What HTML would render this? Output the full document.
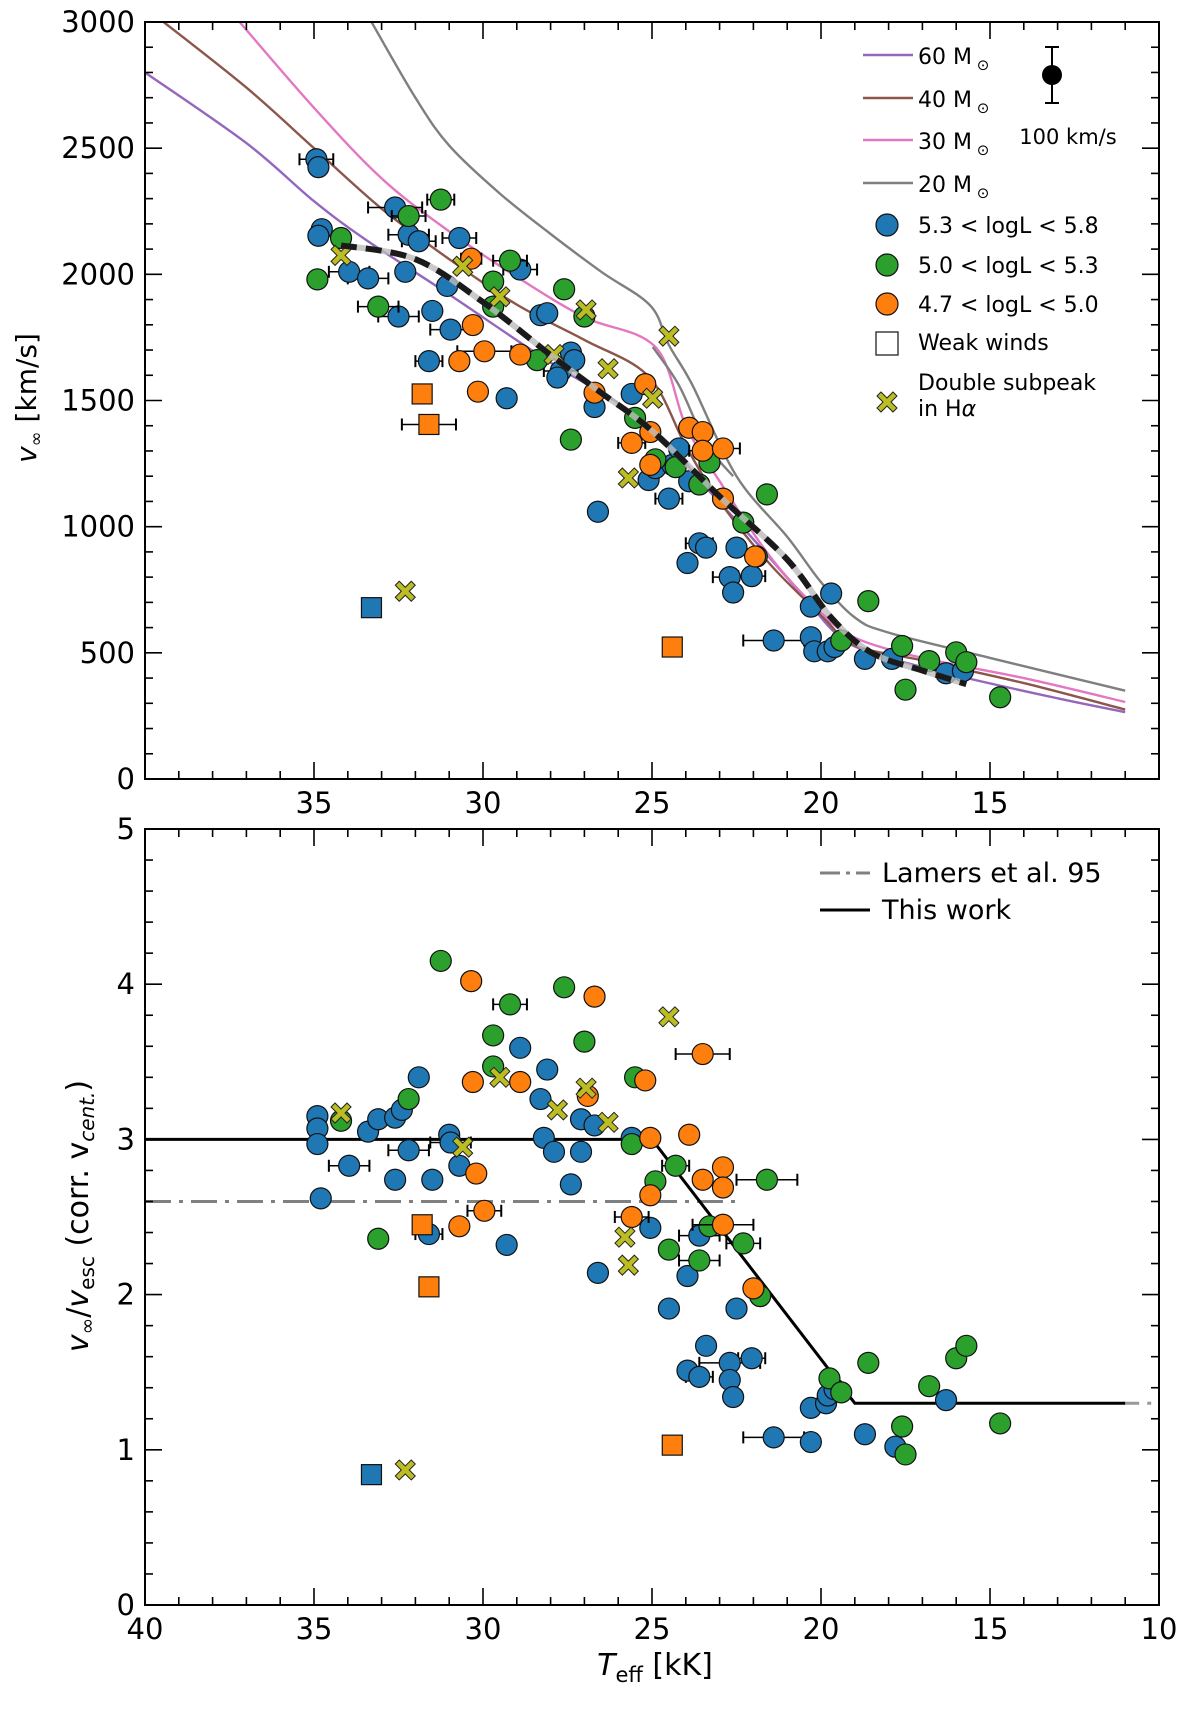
<!DOCTYPE html>
<html><head><meta charset="utf-8">
<style>
html,body{margin:0;padding:0;background:#fff;}
svg{display:block;font-family:"DejaVu Sans","Liberation Sans",sans-serif;}
</style></head>
<body>
<svg id="fig" width="1200" height="1715" viewBox="0 0 1200 1715" xmlns="http://www.w3.org/2000/svg">
<g id="top"></g>
<g id="bot"></g>
</svg>
<script>
// ---------- data ----------
const topBlue=[[34.93,2456,0.5],[34.87,2425,0],[34.77,2179,0],[34.87,2153,0],[33.96,2010,0.6],[33.4,1984,0.6],[32.6,2265,0.8],[32.2,2157,0.6],[32.3,2010,0],[31.9,2131,0.5],[32.5,1833,0.6],[31.5,1855,0],[31.6,1656,0.4],[30.96,1781,0.6],[30.7,2144,0.5],[31.06,1954,0],[29.3,1509,0],[28.9,2019,0.5],[28.3,1838,0],[28.1,1846,0],[27.7,1617,0.5],[27.4,1690,0],[27.3,1660,0],[27.8,1591,0],[26.7,1474,0],[26.6,1059,0],[25.6,1526,0],[25.1,1185,0],[24.9,1232,0],[24.5,1111,0.4],[24.4,1245,0],[23.9,1180,0],[23.95,856,0],[23.6,934,0.4],[23.4,917,0],[22.7,800,0.5],[22.6,739,0],[22.05,804,0.4],[22.5,917,0],[21.4,549,0.9],[20.3,683,0],[20.3,562,0],[20.2,506,0],[19.7,735,0],[19.8,506,0],[19.6,523,0],[18.7,476,0],[17.9,476,0],[16.3,419,0],[15.8,428,0],[24.2,1310,0]];
const topGreen=[[31.25,2296,0.4],[32.2,2231,0.5],[34.2,2144,0],[34.9,1980,0],[33.1,1872,0.6],[29.2,2054,0.5],[29.7,1971,0],[29.7,1872,0],[27.6,1941,0],[27.0,1833,0],[28.4,1660,0],[27.4,1345,0],[25.5,1431,0],[24.9,1267,0],[24.3,1236,0],[23.6,1167,0],[23.3,1254,0],[22.3,1016,0],[21.6,1128,0],[18.6,705,0],[19.4,549,0],[17.6,527,0],[17.5,354,0],[16.8,467,0],[16.0,502,0],[15.7,463,0],[14.7,324,0],[21.9,882,0]];
const topOrange=[[30.35,2062,0.3],[30.3,1799,0],[30.7,1656,0],[29.96,1695,0.8],[28.9,1682,0],[30.15,1535,0],[26.7,1531,0],[25.2,1565,0],[25.05,1375,0],[25.6,1332,0.4],[25.05,1245,0],[23.9,1392,0],[23.5,1375,0],[23.5,1301,0.4],[22.9,1310,0.5],[22.9,1111,0],[21.95,882,0]];
const topOrangeSq=[[31.8,1526,0],[31.6,1405,0.8],[24.4,523,0]];
const topBlueSq=[[33.3,679,0]];
const topX=[[34.2,2075],[30.6,2032],[29.5,1911],[27.9,1682],[26.95,1859],[26.3,1626],[24.98,1509],[25.7,1193],[24.5,1755],[32.3,744]];
const trackT60=[40,37,35,33.5,31,28,26,24.5,23.5,22,20.5,19.5,18.5,16,13,11];
const trackV60=[2800,2520,2290,2140,1920,1650,1490,1330,1170,950,720,570,500,410,320,265];
const trackT40=[39.45,37,35,33,31,29,27,25.1,24,23,21.5,20,19,17,14,11];
const trackV40=[3000,2740,2500,2260,2060,1880,1740,1595,1320,1100,850,650,530,470,380,275];
const trackT30=[37.2,35,33,31,29,27,24.9,24,23,21.5,20,19,17,14,11];
const trackV30=[3000,2660,2380,2170,1990,1830,1712,1400,1180,880,660,560,480,400,305];
const trackT20=[33.3,32,31,29.5,28,26.5,25.05,24.5,23.8,22.5,21,20,19,18,15,11];
const trackV20=[3000,2700,2510,2320,2160,2010,1876,1720,1560,1200,960,780,640,580,480,350];
const trackT20b=[24.98,24.2,23.4,22.6];
const trackV20b=[1712,1560,1330,1200];
const fitT=[34.2,32,30,28,26.5,25,23,21,19.7,18.5,17,15.7];
const fitV=[2115,2060,1890,1680,1530,1380,1120,870,640,500,430,376];
const botBlue=[[34.9,3.15,0],[34.9,3.07,0],[34.9,2.97,0],[34.8,2.62,0],[33.96,2.83,0.6],[33.4,3.05,0],[33.1,3.13,0],[32.6,3.14,0],[32.4,3.19,0],[31.9,3.40,0],[32.2,2.93,0.6],[32.6,2.74,0],[31.5,2.74,0],[31.6,2.39,0.4],[31.0,3.03,0],[30.7,2.83,0],[30.96,2.98,0.6],[29.3,2.32,0],[28.9,3.59,0],[28.3,3.26,0],[28.1,3.45,0],[28.2,3.01,0],[27.9,2.92,0],[27.1,2.92,0],[27.1,3.13,0],[26.7,3.09,0],[27.4,2.71,0],[26.6,2.14,0],[25.6,3.01,0],[25.05,2.43,0],[24.5,1.91,0],[23.95,2.12,0],[23.95,1.51,0],[23.6,1.47,0.4],[23.4,1.67,0],[23.6,2.38,0.6],[22.7,1.56,0.9],[22.7,1.45,0],[22.6,1.34,0],[22.05,1.59,0.4],[22.5,1.91,0],[21.4,1.08,0.9],[20.3,1.05,0],[20.3,1.27,0],[19.85,1.30,0],[19.8,1.35,0],[19.6,1.39,0],[18.7,1.10,0],[17.8,1.02,0],[16.3,1.32,0]];
const botGreen=[[31.25,4.15,0],[32.2,3.26,0],[34.2,3.12,0],[33.1,2.36,0],[29.7,3.47,0],[29.7,3.67,0],[29.2,3.87,0.5],[27.6,3.98,0],[27.0,3.63,0],[25.5,3.40,0],[25.6,2.97,0],[24.9,2.73,0],[24.3,2.83,0.4],[24.5,2.29,0],[23.3,2.44,0],[23.6,2.22,0.6],[22.3,2.33,0.5],[21.8,1.99,0],[21.6,2.74,0.9],[19.75,1.46,0],[19.4,1.37,0],[18.6,1.56,0],[17.6,1.15,0],[17.5,0.97,0],[16.8,1.41,0],[16.0,1.59,0],[15.7,1.67,0],[14.7,1.17,0]];
const botOrange=[[30.35,4.02,0],[30.3,3.37,0],[30.2,2.78,0],[30.7,2.44,0],[29.96,2.54,0.5],[28.9,3.37,0],[26.7,3.92,0],[26.9,3.28,0],[25.2,3.38,0],[25.05,3.01,0],[25.6,2.50,0.5],[25.05,2.64,0],[23.9,3.03,0],[23.5,3.55,0.8],[23.5,2.74,0],[22.9,2.82,0],[22.9,2.69,0],[22.9,2.45,0.9],[22.0,2.04,0]];
const botOrangeSq=[[31.8,2.45,0],[31.6,2.05,0],[24.4,1.03,0]];
const botBlueSq=[[33.3,0.84,0]];
const botX=[[34.2,3.17],[30.6,2.95],[29.5,3.40],[27.8,3.19],[26.95,3.33],[26.3,3.11],[25.8,2.37],[25.7,2.19],[24.5,3.79],[32.3,0.87]];
const thisWorkT=[40,25,19,11];
const thisWorkY=[3.0,3.0,1.3,1.3];
const lamersT=[40,22.4];
const lamersY=[2.6,2.6];
const lamersTailT=[11,10];
const lamersTailY=[1.3,1.3];
const xTicksMajor=[40,35,30,25,20,15,10];
const topYTicks=[0,500,1000,1500,2000,2500,3000];
const botYTicks=[0,1,2,3,4,5];

// ---------- helpers ----------
const NS="http://www.w3.org/2000/svg";
function mk(parent,tag,attrs){const e=document.createElementNS(NS,tag);for(const k in attrs)e.setAttribute(k,attrs[k]);parent.appendChild(e);return e;}
const L=145,R=1159;
const xs=t=>L+(40-t)*(R-L)/30;
const topG=document.getElementById('top'),botG=document.getElementById('bot');
const TT=22,TB=779,BT=829,BB=1605;
const ysTop=v=>TB-v*(TB-TT)/3000;
const ysBot=v=>BB-v*(BB-BT)/5;

function axes(g,top,bot,yMax,yMajor,yMinor,ys,xLabelsAll,yTickLabels){
  const fr=mk(g,'rect',{x:L,y:top,width:R-L,height:bot-top,fill:'none',stroke:'#000','stroke-width':2});
  
  
  for(let t=10;t<=40;t+=1){
    const maj=t%5===0,len=maj?17:8,x=xs(t);
    mk(g,'line',{x1:x,y1:bot,x2:x,y2:bot-len,stroke:'#000','stroke-width':1.6});
    mk(g,'line',{x1:x,y1:top,x2:x,y2:top+len,stroke:'#000','stroke-width':1.6});
  }
  for(let v=0;v<=yMax+1e-9;v+=yMinor){
    const maj=Math.abs(v/yMajor-Math.round(v/yMajor))<1e-6,len=maj?17:8,y=ys(v);
    mk(g,'line',{x1:L,y1:y,x2:L+len,y2:y,stroke:'#000','stroke-width':1.6});
    mk(g,'line',{x1:R,y1:y,x2:R-len,y2:y,stroke:'#000','stroke-width':1.6});
  }
  xTicksMajor.forEach(t=>{
    if(!xLabelsAll && (t===40||t===10)) return;
    const tx=mk(g,'text',{x:xs(t),y:bot+34,'font-size':29,'text-anchor':'middle'});
    tx.textContent=t;
    
    
  });
  yTickLabels.forEach(v=>{
    const tx=mk(g,'text',{x:L-10,y:ys(v)+10,'font-size':29,'text-anchor':'end'});
    tx.textContent=v;
    
    
  });
}
function line(g,T,V,ys,attrs,name){
  const pts=T.map((t,i)=>xs(t).toFixed(1)+','+ys(V[i]).toFixed(1)).join(' ');
  const p=mk(g,'polyline',Object.assign({points:pts,fill:'none'},attrs));
  
  
  return p;
}
function smooth(g,T,V,ys,attrs,name){
  const P=T.map((t,i)=>[xs(t),ys(V[i])]);
  let d='M'+P[0][0].toFixed(1)+','+P[0][1].toFixed(1);
  for(let i=0;i<P.length-1;i++){
    const p0=P[Math.max(i-1,0)],p1=P[i],p2=P[i+1],p3=P[Math.min(i+2,P.length-1)];
    const c1=[p1[0]+(p2[0]-p0[0])/6,p1[1]+(p2[1]-p0[1])/6];
    const c2=[p2[0]-(p3[0]-p1[0])/6,p2[1]-(p3[1]-p1[1])/6];
    d+=` C${c1[0].toFixed(1)},${c1[1].toFixed(1)} ${c2[0].toFixed(1)},${c2[1].toFixed(1)} ${p2[0].toFixed(1)},${p2[1].toFixed(1)}`;
  }
  const p=mk(g,'path',Object.assign({d:d,fill:'none'},attrs));
  
  
  return p;
}
function errs(g,arr,ys){
  arr.forEach(d=>{ if(!d[2])return;
    const x1=xs(d[0]+d[2]),x2=xs(d[0]-d[2]),y=ys(d[1]);
    mk(g,'line',{x1:x1,y1:y,x2:x2,y2:y,stroke:'#000','stroke-width':1.5});
    mk(g,'line',{x1:x1,y1:y-6,x2:x1,y2:y+6,stroke:'#000','stroke-width':2});
    mk(g,'line',{x1:x2,y1:y-6,x2:x2,y2:y+6,stroke:'#000','stroke-width':2});
  });
}
function circles(g,arr,ys,color,name){
  errs(g,arr,ys);
  arr.forEach(d=>{
    const c=mk(g,'circle',{cx:xs(d[0]),cy:ys(d[1]),r:10.5,fill:color,stroke:'#111','stroke-width':1.2});
    
    
  });
}
function squares(g,arr,ys,color,name){
  errs(g,arr,ys);
  arr.forEach(d=>{
    const c=mk(g,'rect',{x:xs(d[0])-10,y:ys(d[1])-10,width:20,height:20,fill:color,stroke:'#111','stroke-width':1.2});
    
    
  });
}
const Xpath="M-6,-10 L0,-4 L6,-10 L10,-6 L4,0 L10,6 L6,10 L0,4 L-6,10 L-10,6 L-4,0 L-10,-6 Z";
function crosses(g,arr,ys,name){
  arr.forEach(d=>{
    const c=mk(g,'path',{d:Xpath,transform:`translate(${xs(d[0])},${ys(d[1])})`,fill:'#bcbd22',stroke:'#222','stroke-width':1});
    
    
  });
}

// ---------- top panel ----------
const clipT=mk(topG,'clipPath',{id:'clipTop'});
mk(clipT,'rect',{x:L,y:TT,width:R-L,height:TB-TT});
const tg=mk(topG,'g',{'clip-path':'url(#clipTop)'});
smooth(tg,trackT60,trackV60,ysTop,{stroke:'#9467bd','stroke-width':2.4},'track-60msun');
smooth(tg,trackT40,trackV40,ysTop,{stroke:'#8c564b','stroke-width':2.4},'track-40msun');
smooth(tg,trackT30,trackV30,ysTop,{stroke:'#e377c2','stroke-width':2.4},'track-30msun');
smooth(tg,trackT20,trackV20,ysTop,{stroke:'#7f7f7f','stroke-width':2.4},'track-20msun');
smooth(tg,trackT20b,trackV20b,ysTop,{stroke:'#7f7f7f','stroke-width':2.4},'track-20msun-loop');
circles(tg,topBlue,ysTop,'#1f77b4','point-high-lum');
circles(tg,topGreen,ysTop,'#2ca02c','point-mid-lum');
circles(tg,topOrange,ysTop,'#ff7f0e','point-low-lum');
squares(tg,topOrangeSq,ysTop,'#ff7f0e','weak-wind-low-lum');
squares(tg,topBlueSq,ysTop,'#1f77b4','weak-wind-high-lum');
crosses(tg,topX,ysTop,'double-subpeak-marker');
smooth(tg,fitT,fitV,ysTop,{stroke:'#bbb','stroke-width':6,'stroke-opacity':0.8},'fit-line-base');
smooth(tg,fitT,fitV,ysTop,{stroke:'#1a1a1a','stroke-width':6,'stroke-dasharray':'16 9'},'fit-line-dashed');
axes(topG,TT,TB,3000,500,100,ysTop,false,topYTicks);

// ---------- bottom panel ----------
const clipB=mk(botG,'clipPath',{id:'clipBot'});
mk(clipB,'rect',{x:L,y:BT,width:R-L,height:BB-BT});
const bg=mk(botG,'g',{'clip-path':'url(#clipBot)'});
line(bg,lamersT,lamersY,ysBot,{stroke:'#808080','stroke-width':3,'stroke-dasharray':'26 8 4 8'},'lamers-line');
line(bg,lamersTailT,lamersTailY,ysBot,{stroke:'#999','stroke-width':3,'stroke-dasharray':'14 8 4 8'},'lamers-tail');
line(bg,thisWorkT,thisWorkY,ysBot,{stroke:'#000','stroke-width':3},'this-work-line');
circles(bg,botBlue,ysBot,'#1f77b4','point-high-lum');
circles(bg,botGreen,ysBot,'#2ca02c','point-mid-lum');
circles(bg,botOrange,ysBot,'#ff7f0e','point-low-lum');
squares(bg,botOrangeSq,ysBot,'#ff7f0e','weak-wind-low-lum');
squares(bg,botBlueSq,ysBot,'#1f77b4','weak-wind-high-lum');
crosses(bg,botX,ysBot,'double-subpeak-marker');
axes(botG,BT,BB,5,1,0.2,ysBot,true,botYTicks);
</script>
<script>
(function(){
const NS="http://www.w3.org/2000/svg",f=document.getElementById('fig');
function mk(tag,attrs,txt){const e=document.createElementNS(NS,tag);for(const k in attrs)e.setAttribute(k,attrs[k]);if(txt!==undefined)e.innerHTML=txt;f.appendChild(e);return e;}
let e;
e=mk('text',{x:36,y:398,'font-size':28,'text-anchor':'middle',transform:'rotate(-90 36 398)'},'<tspan font-style="italic">v</tspan><tspan font-size="18" dy="6">∞</tspan><tspan dy="-6"> [km/s]</tspan>');


e=mk('text',{x:88,y:1216,'font-size':30,'text-anchor':'middle',transform:'rotate(-90 88 1216)'},'<tspan font-style="italic">v</tspan><tspan font-size="20" dy="6">∞</tspan><tspan dy="-6">/</tspan><tspan font-style="italic">v</tspan><tspan font-size="20" dy="6">esc</tspan><tspan dy="-6"> (corr. v</tspan><tspan font-size="20" dy="6" font-style="italic">cent.</tspan><tspan dy="-6">)</tspan>');


e=mk('text',{x:655,y:1675,'font-size':30,'text-anchor':'middle'},'<tspan font-style="italic">T</tspan><tspan font-size="21" dy="7">eff</tspan><tspan dy="-7"> [kK]</tspan>');


const tracks=[['#9467bd','60',55],['#8c564b','40',98],['#e377c2','30',140],['#7f7f7f','20',183]];
tracks.forEach(t=>{
  e=mk('line',{x1:863,y1:t[2],x2:913,y2:t[2],stroke:t[0],'stroke-width':2.5});
  
  
  e=mk('text',{x:918,y:t[2]+9,'font-size':22},t[1]+' M<tspan font-size="15" dy="6"> ⊙</tspan>');
  
  
});
const circ=[['#1f77b4','5.3 &lt; logL &lt; 5.8',225],['#2ca02c','5.0 &lt; logL &lt; 5.3',265],['#ff7f0e','4.7 &lt; logL &lt; 5.0',304]];
circ.forEach(c=>{
  e=mk('circle',{cx:887,cy:c[2],r:11,fill:c[0],stroke:'#111','stroke-width':1.2});
  
  
  e=mk('text',{x:918,y:c[2]+8,'font-size':22},c[1]);
  
  
});
e=mk('rect',{x:876,y:332,width:22,height:23,fill:'#fff',stroke:'#222','stroke-width':1.3});


e=mk('text',{x:918,y:350,'font-size':22},'Weak winds');


e=mk('path',{d:"M-6,-10 L0,-4 L6,-10 L10,-6 L4,0 L10,6 L6,10 L0,4 L-6,10 L-10,6 L-4,0 L-10,-6 Z",transform:'translate(887,402)',fill:'#bcbd22',stroke:'#222','stroke-width':1});


e=mk('text',{x:918,y:390,'font-size':22},'Double subpeak');


e=mk('text',{x:918,y:416,'font-size':22},'in H<tspan font-style="italic">α</tspan>');


mk('line',{x1:1052,y1:47,x2:1052,y2:103,stroke:'#000','stroke-width':2});
mk('line',{x1:1045,y1:47,x2:1059,y2:47,stroke:'#000','stroke-width':2});
mk('line',{x1:1045,y1:103,x2:1059,y2:103,stroke:'#000','stroke-width':2});
e=mk('circle',{cx:1052,cy:75,r:10,fill:'#000'});


e=mk('text',{x:1068,y:144,'font-size':21,'text-anchor':'middle'},'100 km/s');


e=mk('line',{x1:820,y1:873,x2:870,y2:873,stroke:'#808080','stroke-width':3,'stroke-dasharray':'20 6 4 6'});


e=mk('text',{x:882,y:882,'font-size':27},'Lamers et al. 95');


e=mk('line',{x1:820,y1:910,x2:870,y2:910,stroke:'#000','stroke-width':3});


e=mk('text',{x:882,y:919,'font-size':27},'This work');


})();
</script>
</body></html>
